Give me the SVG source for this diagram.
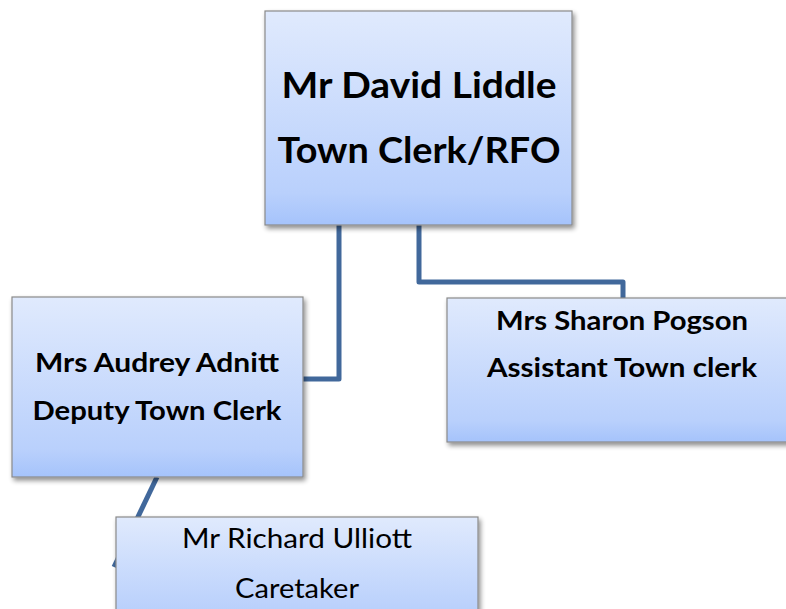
<svg xmlns="http://www.w3.org/2000/svg" width="786" height="609" viewBox="0 0 786 609">
<style>
.box{fill:url(#g);stroke:#8a8a8a;stroke-width:1.2;filter:url(#sh)}
.t{font-family:Lato,"Open Sans","Liberation Sans",sans-serif;fill:#000;text-anchor:middle}
.b{font-weight:bold}
.c{fill:none;stroke:#41689b;stroke-width:5;stroke-linejoin:round}
</style>
<defs>
<linearGradient id="g" x1="0" y1="0" x2="0" y2="1">
<stop offset="0" stop-color="#e0eafd"/>
<stop offset="0.85" stop-color="#b9d0fc"/>
<stop offset="1" stop-color="#a5c3fb"/>
</linearGradient>
<filter id="sh" x="-10%" y="-10%" width="125%" height="130%">
<feGaussianBlur in="SourceAlpha" stdDeviation="2.5"/>
<feOffset dx="2" dy="3" result="o"/>
<feComponentTransfer><feFuncA type="linear" slope="0.45"/></feComponentTransfer>
<feMerge><feMergeNode/><feMergeNode in="SourceGraphic"/></feMerge>
</filter>
</defs>
<g id="connectors">
<path class="c" d="M339,225 V379 H303"/>
<path class="c" d="M419,225 V282 H623 V298"/>
<path class="c" d="M157,477 L114,567"/>
</g>
<g id="n1">
<rect class="box" x="265" y="11" width="307" height="214"/>
<text class="t b" x="419" y="98" font-size="36" textLength="275" lengthAdjust="spacingAndGlyphs">Mr David Liddle</text>
<text class="t b" x="419" y="163" font-size="36" textLength="283" lengthAdjust="spacingAndGlyphs">Town Clerk/RFO</text>
</g>
<g id="n2">
<rect class="box" x="12" y="297" width="291" height="180"/>
<text class="t b" x="157" y="372" font-size="26" textLength="244" lengthAdjust="spacingAndGlyphs">Mrs Audrey Adnitt</text>
<text class="t b" x="157" y="420" font-size="26" textLength="249" lengthAdjust="spacingAndGlyphs">Deputy Town Clerk</text>
</g>
<g id="n3">
<rect class="box" x="447" y="298" width="345" height="144"/>
<text class="t b" x="622" y="330" font-size="26" textLength="252" lengthAdjust="spacingAndGlyphs">Mrs Sharon Pogson</text>
<text class="t b" x="622" y="377" font-size="26" textLength="270" lengthAdjust="spacingAndGlyphs">Assistant Town clerk</text>
</g>
<g id="n4">
<rect class="box" x="116" y="517" width="362" height="110"/>
<text class="t" x="297" y="548" font-size="26" textLength="230" lengthAdjust="spacingAndGlyphs">Mr Richard Ulliott</text>
<text class="t" x="297" y="598" font-size="26" textLength="124" lengthAdjust="spacingAndGlyphs">Caretaker</text>
</g>
</svg>
